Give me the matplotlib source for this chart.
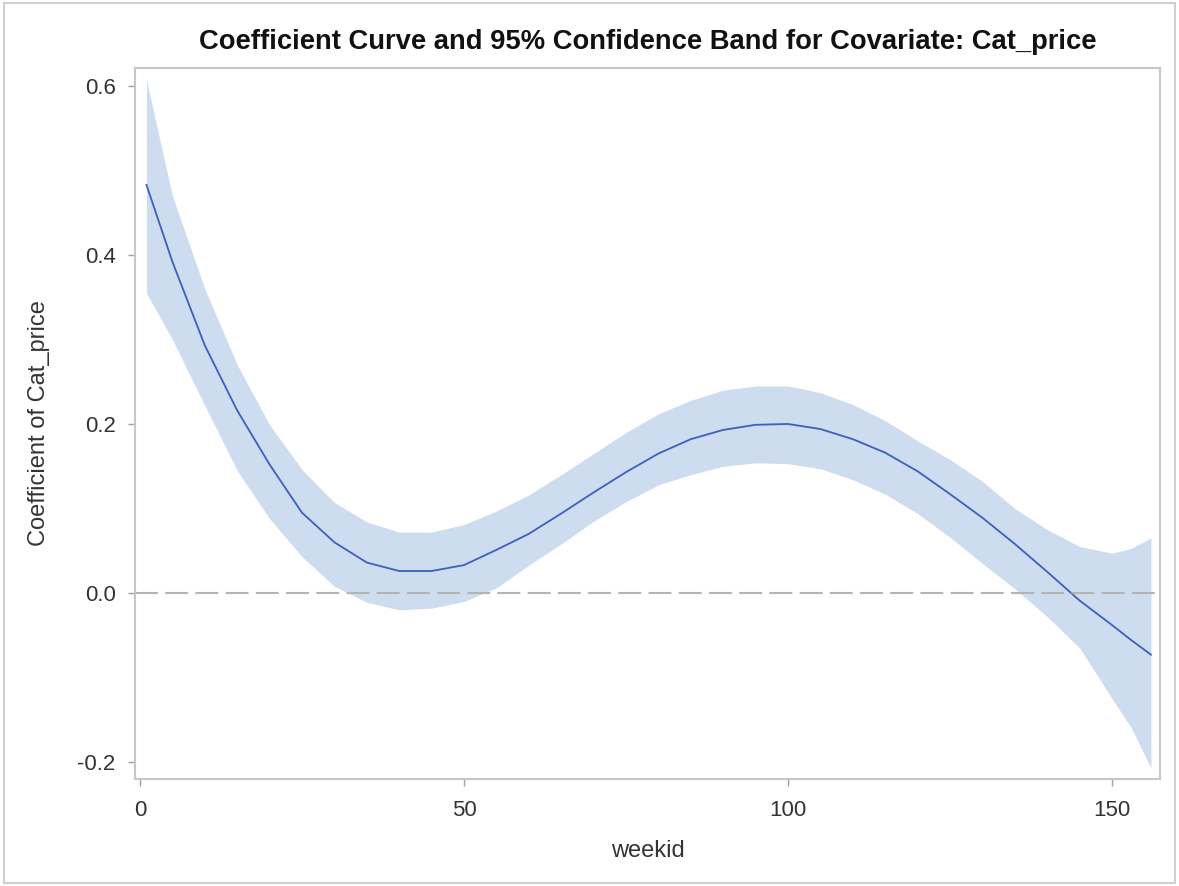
import matplotlib
matplotlib.use("Agg")
import matplotlib.pyplot as plt
from matplotlib.patches import Rectangle

plt.rcParams['font.family'] = ['Liberation Sans', 'DejaVu Sans']

weekid = [1, 5, 10, 15, 20, 25, 30, 35, 40, 45, 50, 55, 60, 65, 70, 75, 80,
          85, 90, 95, 100, 105, 110, 115, 120, 125, 130, 135, 140, 145, 150, 153, 156]
# estimated coefficient
coef = [0.483, 0.392, 0.293, 0.216, 0.152, 0.095, 0.060, 0.036, 0.026, 0.026, 0.033,
        0.051, 0.070, 0.094, 0.119, 0.143, 0.165, 0.182, 0.193, 0.199, 0.200, 0.194,
        0.182, 0.166, 0.144, 0.117, 0.089, 0.058, 0.025, -0.009, -0.038, -0.056, -0.073]
# 95% confidence band
upper = [0.607, 0.470, 0.360, 0.270, 0.199, 0.146, 0.107, 0.084, 0.072, 0.072, 0.081,
         0.097, 0.116, 0.140, 0.165, 0.190, 0.212, 0.228, 0.240, 0.245, 0.245, 0.237,
         0.223, 0.204, 0.180, 0.158, 0.132, 0.100, 0.075, 0.055, 0.047, 0.053, 0.065]
lower = [0.355, 0.300, 0.222, 0.145, 0.088, 0.043, 0.008, -0.011, -0.020, -0.018, -0.010,
         0.006, 0.033, 0.058, 0.085, 0.108, 0.128, 0.140, 0.150, 0.154, 0.153, 0.147,
         0.134, 0.117, 0.094, 0.066, 0.035, 0.005, -0.028, -0.065, -0.125, -0.160, -0.207]

xticks = [0, 50, 100, 150]
yticks = [-0.2, 0.0, 0.2, 0.4, 0.6]

fig = plt.figure(figsize=(11.79, 8.86), dpi=100)
ax = fig.add_axes([0.1145, 0.1208, 0.8694, 0.8025])

#band first, then the fitted curve on top
ax.fill_between(weekid, lower, upper, color='#cddcee', linewidth=0)
ax.plot(weekid, coef, color='#3d5fbf', linewidth=1.3)
ax.axhline(0, color='#b4b4b4', linewidth=1.5, dashes=(11, 3.5))

ax.set_xlim(-0.77, 157.4)
ax.set_ylim(-0.2201, 0.6213)
ax.set_xticks(xticks)
ax.set_yticks(yticks)
ax.set_yticklabels(['%.1f' % v for v in yticks])

for s in ax.spines.values():
    s.set_color('#c4c8cc')
    s.set_linewidth(1.5)
ax.tick_params(direction='out', length=5, width=1, color='#a0a0a0',
               labelcolor='#333333', labelsize=16)
ax.tick_params(axis='y', pad=9)
ax.tick_params(axis='x', pad=10)

ax.set_xlabel('weekid', fontsize=17, color='#333333', labelpad=14)
ax.set_ylabel('Coefficient of Cat_price', fontsize=17, color='#333333', labelpad=20)
ax.set_title('Coefficient Curve and 95% Confidence Band for Covariate: Cat_price',
             fontsize=19.7, fontweight='bold', color='#111111', pad=14)

# light frame around the whole image
fig.patches.append(Rectangle((0.003, 0.003), 0.994, 0.994, transform=fig.transFigure,
                             fill=False, edgecolor='#d0d0d0', linewidth=1.5))

fig.savefig('out.png', dpi=100)
